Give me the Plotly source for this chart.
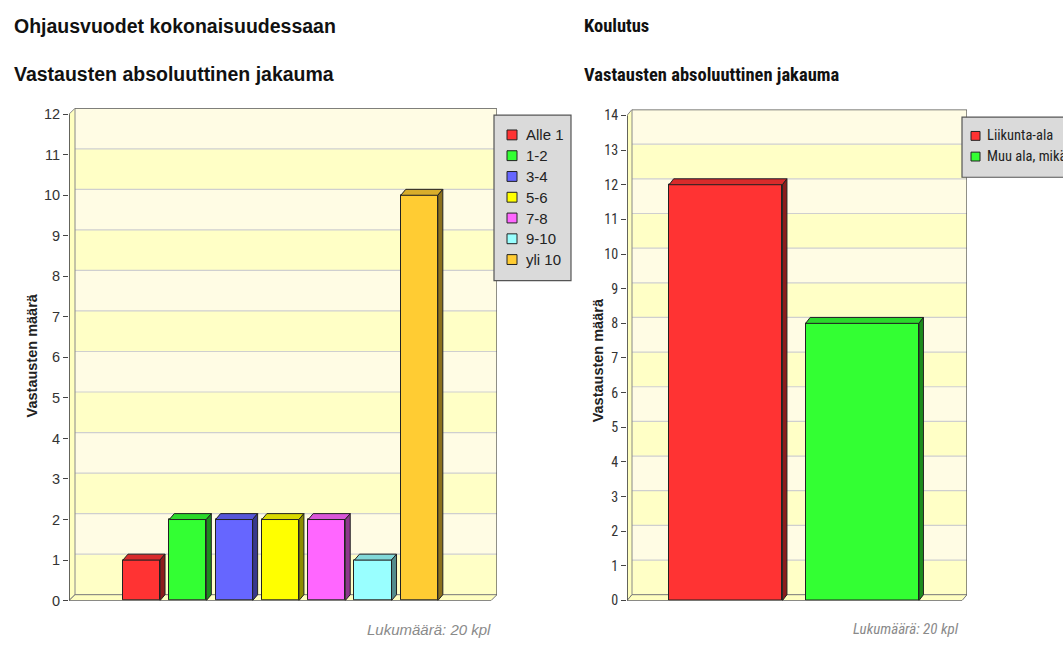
import plotly.graph_objects as go

# ---------------- data ----------------
left_categories = ["Alle 1", "1-2", "3-4", "5-6", "7-8", "9-10", "yli 10"]
left_values = [1, 2, 2, 2, 2, 1, 10]
left_colors = ["#ff3333", "#33ff33", "#6666ff", "#ffff00", "#ff66ff", "#99ffff", "#ffcc33"]
left_ticks = list(range(0, 13))

right_categories = ["Liikunta-ala", "Muu ala, mikä?"]
right_values = [12, 8]
right_colors = ["#ff3333", "#33ff33"]
right_ticks = list(range(0, 15))

left_title = "Ohjausvuodet kokonaisuudessaan"
right_title = "Koulutus"
subtitle = "Vastausten absoluuttinen jakauma"
y_title = "Vastausten määrä"
footnote = "Lukumäärä: 20 kpl"

W, H = 1063, 646
SANS = "Liberation Sans, Arial, sans-serif"
NARROW = "Roboto Condensed, Liberation Sans, sans-serif"

LIGHT = "#fffce4"
YELLOW = "#ffffc6"
WALLSIDE = "#ffffc0"


def shade(hexcol, f):
    h = hexcol.lstrip("#")
    r, g, b = (int(h[i:i + 2], 16) for i in (0, 2, 4))
    return "#%02x%02x%02x" % (int(r * f), int(g * f), int(b * f))


def px(x):
    return x / W


def py(y):
    return 1 - y / H


fig = go.Figure()
shapes = []
annotations = []


def panel(xa, ya, cats, vals, colors, ticks, P, tickfont):
    kx, ky = P["kx"], P["ky"]
    xmin = -(P["c0"] - P["axis"]) / kx
    xmax = xmin + (P["wall_r"] - P["axis"]) / kx
    dx = P["dxp"] / kx
    dy = P["dyp"] / ky
    ytop = ticks[-1]
    ymax = ytop + dy
    top_px = P["base"] - ymax * ky
    xdom = [P["axis"] / W, P["wall_r"] / W]
    ydom = [(H - P["base"]) / H, (H - top_px) / H]
    xr = "x" if xa == "xaxis" else "x" + xa[5:]
    yr = "y" if ya == "yaxis" else "y" + ya[5:]

    # back wall bands
    for k in range(len(ticks) - 1):
        shapes.append(dict(type="rect", xref=xr, yref=yr, x0=xmin + dx, x1=xmax,
                           y0=k + dy, y1=k + 1 + dy, fillcolor=YELLOW if k % 2 == 0 else LIGHT,
                           line=dict(width=0), layer="below"))
    for k in ticks[1:-1]:
        shapes.append(dict(type="line", xref=xr, yref=yr, x0=xmin + dx, x1=xmax,
                           y0=k + dy, y1=k + dy, line=dict(color="#cfcfcf", width=1.2), layer="below"))
    # left wall
    shapes.append(dict(type="path", xref=xr, yref=yr, layer="below",
                       path=f"M {xmin},0 L {xmin},{ytop} L {xmin+dx},{ymax} L {xmin+dx},{dy} Z",
                       fillcolor=WALLSIDE, line=dict(color="#888888", width=1)))
    # floor
    shapes.append(dict(type="path", xref=xr, yref=yr, layer="below",
                       path=f"M {xmin},0 L {xmax-dx},0 L {xmax},{dy} L {xmin+dx},{dy} Z",
                       fillcolor=WALLSIDE, line=dict(color="#777777", width=1)))
    # wall outline
    shapes.append(dict(type="path", xref=xr, yref=yr, layer="below",
                       path=f"M {xmin+dx},{ymax} L {xmax},{ymax} L {xmax},{dy}",
                       line=dict(color="#555555", width=1.3)))
    # front axis line
    shapes.append(dict(type="line", xref=xr, yref=yr, layer="above", x0=xmin, x1=xmin, y0=0, y1=ytop,
                       line=dict(color="#444444", width=1.5)))
    shapes.append(dict(type="line", xref=xr, yref=yr, layer="above", x0=xmin, x1=xmax - dx, y0=0, y1=0,
                       line=dict(color="#555555", width=1.2)))

    xs = list(range(len(cats)))
    w = P["barw"]
    fig.add_trace(go.Bar(x=xs, y=vals, width=w, marker=dict(color=colors, line=dict(color="#222222", width=1)),
                         xaxis=xr, yaxis=yr, showlegend=False, hoverinfo="skip"))
    bdx = P["bdxp"] / kx
    bdy = P["bdyp"] / ky
    for x, v, c in zip(xs, vals, colors):
        l, r = x - w / 2, x + w / 2
        shapes.append(dict(type="path", xref=xr, yref=yr, layer="above",
                           path=f"M {l},{v} L {r},{v} L {r+bdx},{v+bdy} L {l+bdx},{v+bdy} Z",
                           fillcolor=shade(c, 0.85), line=dict(color="#222222", width=1)))
        shapes.append(dict(type="path", xref=xr, yref=yr, layer="above",
                           path=f"M {r},0 L {r},{v} L {r+bdx},{v+bdy} L {r+bdx},{bdy} Z",
                           fillcolor=shade(c, 0.55), line=dict(color="#222222", width=1)))

    fig.update_layout(**{
        xa: dict(domain=xdom, range=[xmin, xmax], visible=False, fixedrange=True),
        ya: dict(domain=ydom, range=[0, ymax], tickvals=ticks, ticks="outside", ticklen=5,
                 tickcolor="#444444", tickwidth=1, showgrid=False, zeroline=False, showline=False,
                 tickfont=tickfont, anchor=xr, fixedrange=True),
    })


panel("xaxis", "yaxis", left_categories, left_values, left_colors, left_ticks,
      dict(axis=69, kx=46.3, ky=41.17, c0=141.5, wall_r=497, dxp=6, dyp=6, base=608, barw=0.8, bdxp=5, bdyp=6),
      dict(family=SANS, size=14.5, color="#333333"))
panel("xaxis2", "yaxis2", right_categories, right_values, right_colors, right_ticks,
      dict(axis=627, kx=136.5, ky=35.2, c0=725.8, wall_r=967, dxp=5, dyp=6, base=608, barw=0.83, bdxp=4.5, bdyp=6),
      dict(family=NARROW, size=14, color="#333333"))


# ---------------- legends (manual) ----------------
def legend(box, cats, colors, first_y, step, sq_x, sq, text_x, font):
    x0, y0, x1, y1 = box
    shapes.append(dict(type="rect", xref="paper", yref="paper", x0=px(x0), x1=px(x1), y0=py(y1), y1=py(y0),
                       fillcolor="#dadada", line=dict(color="#555555", width=1.2), layer="above"))
    for i, (c, col) in enumerate(zip(cats, colors)):
        yc = first_y + i * step
        shapes.append(dict(type="rect", xref="paper", yref="paper", x0=px(sq_x), x1=px(sq_x + sq),
                           y0=py(yc + sq / 2), y1=py(yc - sq / 2), fillcolor=col,
                           line=dict(color="#222222", width=1), layer="above"))
        annotations.append(dict(text=c, xref="paper", yref="paper", x=px(text_x), y=py(yc),
                                xanchor="left", yanchor="middle", showarrow=False, font=font))


legend((494, 115, 571, 283), left_categories, left_colors, 135, 21.1, 507, 10, 524,
       dict(family=SANS, size=15, color="#222222"))
legend((962, 117, 1080, 178), right_categories, right_colors, 136, 21, 971, 9, 985,
       dict(family=NARROW, size=14.5, color="#222222"))

# ---------------- texts ----------------
annotations += [
    dict(text=left_title, x=px(12), y=py(24), xanchor="left", yanchor="middle",
         font=dict(family=SANS, size=19.5, color="#111111", weight="bold")),
    dict(text=subtitle, x=px(12), y=py(73), xanchor="left", yanchor="middle",
         font=dict(family=SANS, size=19.5, color="#111111", weight="bold")),
    dict(text=right_title, x=px(582), y=py(24), xanchor="left", yanchor="middle",
         font=dict(family=NARROW, size=18.5, color="#111111", weight="bold")),
    dict(text=subtitle, x=px(582), y=py(74), xanchor="left", yanchor="middle",
         font=dict(family=NARROW, size=18.5, color="#111111", weight="bold")),
    dict(text=y_title, x=px(32), y=py(359), xanchor="center", yanchor="middle", textangle=-90,
         font=dict(family=SANS, size=14.5, color="#222222", weight="bold")),
    dict(text=y_title, x=px(598), y=py(364), xanchor="center", yanchor="middle", textangle=-90,
         font=dict(family=SANS, size=14.5, color="#222222", weight="bold")),
    dict(text=footnote, x=px(493), y=py(637), xanchor="right", yanchor="middle",
         font=dict(family=SANS, size=15, color="#8a8a8a", style="italic")),
    dict(text=footnote, x=px(961), y=py(637), xanchor="right", yanchor="middle",
         font=dict(family=NARROW, size=15, color="#8a8a8a", style="italic")),
]
for a in annotations:
    a.setdefault("xref", "paper")
    a.setdefault("yref", "paper")
    a["showarrow"] = False

fig.update_layout(
    width=W, height=H, margin=dict(l=0, r=0, t=0, b=0),
    paper_bgcolor="white", plot_bgcolor="rgba(0,0,0,0)",
    bargap=0, showlegend=False,
    shapes=shapes, annotations=annotations,
)

fig.write_html("out.html")
